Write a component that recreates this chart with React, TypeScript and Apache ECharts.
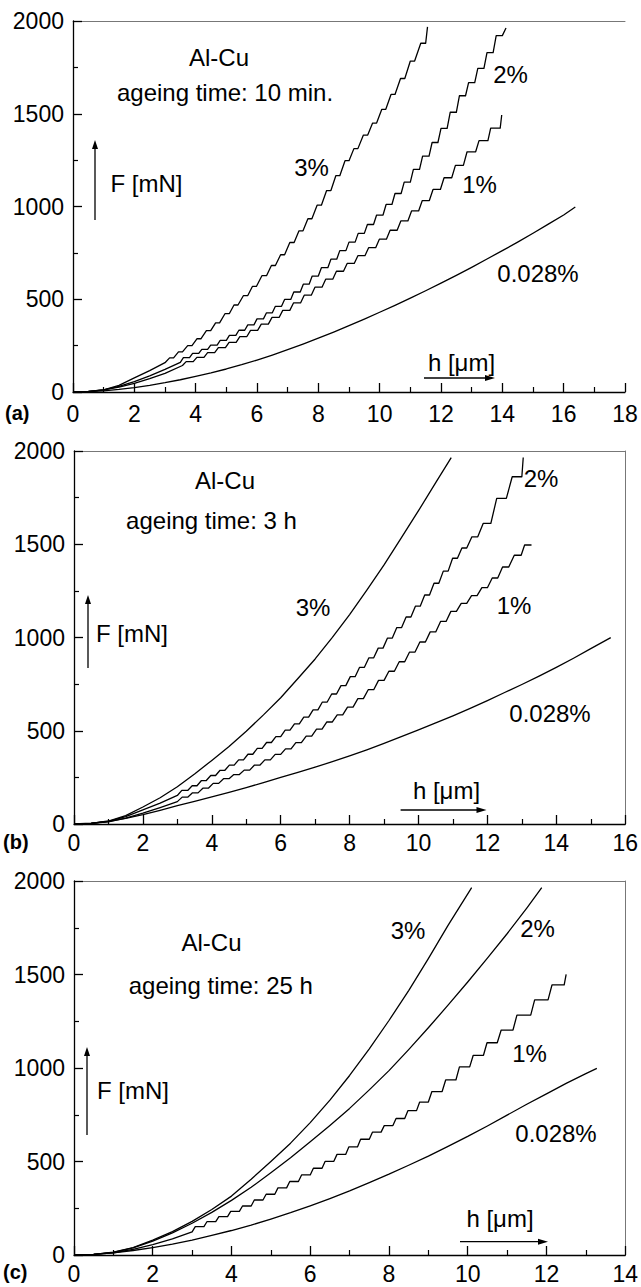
import { useEffect, useRef } from "react";
import * as echarts from "echarts";

// Staircase curves are given as a smooth lower part [h, F] followed by
// plateaus [hStart, hEnd, F] (displacement bursts at constant load).

// ---------- Panel (a): ageing time 10 min ----------
const a3Smooth = [[0, 0], [0.5, 2], [1, 12], [1.5, 36], [2, 76], [2.5, 115], [3, 158]];
const a3Flats = [[3.15, 3.28, 184], [3.44, 3.57, 216], [3.74, 3.88, 250], [4.04, 4.17, 287], [4.35, 4.49, 331], [4.65, 4.78, 373], [4.96, 5.1, 423], [5.25, 5.38, 469], [5.56, 5.7, 520], [5.85, 5.98, 569], [6.16, 6.31, 627], [6.47, 6.6, 682], [6.77, 6.9, 740], [7.07, 7.21, 806], [7.37, 7.5, 869], [7.66, 7.79, 934], [7.96, 8.1, 1007], [8.27, 8.41, 1086], [8.57, 8.7, 1166], [8.87, 9.0, 1247], [9.16, 9.29, 1312], [9.47, 9.61, 1385], [9.77, 9.9, 1450], [10.07, 10.2, 1524], [10.37, 10.5, 1604], [10.68, 10.82, 1690], [11.0, 11.14, 1784], [11.34, 11.5, 1880], [11.56, 11.56, 1968]];
const a2Smooth = [[0, 0], [0.5, 3], [1, 12], [1.5, 30], [2, 56], [2.5, 87], [3, 122], [3.5, 160]];
const a2Flats = [[3.6, 3.8, 185], [3.9, 4.1, 208], [4.2, 4.39, 230], [4.49, 4.7, 253], [4.8, 5.0, 278], [5.1, 5.31, 305], [5.41, 5.6, 333], [5.7, 5.9, 362], [6.0, 6.21, 394], [6.31, 6.5, 427], [6.6, 6.8, 462], [6.9, 7.1, 499], [7.2, 7.41, 539], [7.51, 7.7, 581], [7.8, 8.0, 625], [8.1, 8.31, 670], [8.41, 8.6, 716], [8.7, 8.9, 762], [9.0, 9.2, 808], [9.3, 9.5, 855], [9.6, 9.8, 903], [9.9, 10.11, 954], [10.21, 10.4, 1011], [10.5, 10.7, 1070], [10.8, 11.0, 1131], [11.1, 11.3, 1200], [11.4, 11.61, 1272], [11.71, 11.9, 1345], [12.0, 12.2, 1421], [12.3, 12.5, 1508], [12.6, 12.8, 1597], [12.9, 13.1, 1668], [13.2, 13.4, 1745], [13.5, 13.7, 1830], [13.8, 14.0, 1921], [14.12, 14.12, 1962]];
const a1Smooth = [[0, 0], [0.5, 3], [1, 11], [1.5, 26], [2, 47], [2.5, 72], [3, 100], [3.57, 143]];
const a1Flats = [[3.69, 3.92, 164], [4.04, 4.27, 187], [4.39, 4.62, 212], [4.74, 4.97, 239], [5.09, 5.32, 268], [5.44, 5.67, 299], [5.79, 6.02, 332], [6.14, 6.37, 366], [6.49, 6.72, 402], [6.84, 7.07, 440], [7.19, 7.42, 480], [7.54, 7.77, 522], [7.89, 8.12, 565], [8.24, 8.47, 608], [8.59, 8.82, 651], [8.94, 9.17, 693], [9.29, 9.52, 735], [9.64, 9.87, 778], [9.99, 10.22, 824], [10.34, 10.57, 872], [10.69, 10.92, 922], [11.04, 11.27, 976], [11.39, 11.62, 1032], [11.74, 11.98, 1092], [12.1, 12.35, 1155], [12.47, 12.73, 1222], [12.85, 13.13, 1295], [13.24, 13.53, 1355], [13.62, 13.93, 1422], [13.98, 13.98, 1493]];
const a0 = [[0, 0], [0.5, 2], [1, 6], [1.5, 14], [2, 24], [2.5, 36], [3, 50], [3.5, 66], [4, 84], [4.5, 103], [5, 124], [5.5, 147], [6, 172], [6.5, 199], [7, 228], [7.5, 258], [8, 290], [8.5, 323], [9, 358], [9.5, 393], [10, 430], [10.5, 467], [11, 506], [11.5, 546], [12, 587], [12.5, 629], [13, 672], [13.5, 717], [14, 762], [14.5, 808], [15, 856], [15.5, 905], [16, 954], [16.38, 997]];

// ---------- Panel (b): ageing time 3 h ----------
const b3 = [[0, 0], [0.5, 3], [1, 16], [1.5, 45], [2, 91], [2.5, 141], [3, 200], [3.5, 268], [4, 341], [4.5, 415], [5, 497], [5.5, 585], [6, 677], [6.5, 780], [7, 885], [7.5, 1001], [8, 1123], [8.5, 1254], [9, 1389], [9.5, 1534], [10, 1680], [10.5, 1830], [10.95, 1964]];
const b2Smooth = [[0, 0], [0.5, 3], [1, 14], [1.5, 40], [2, 76], [2.5, 112], [3, 153]];
const b2Flats = [[3.13, 3.3, 180], [3.43, 3.57, 205], [3.7, 3.84, 233], [3.97, 4.11, 260], [4.24, 4.38, 288], [4.51, 4.65, 316], [4.78, 4.92, 344], [5.05, 5.19, 374], [5.32, 5.46, 405], [5.59, 5.73, 437], [5.86, 6.0, 468], [6.13, 6.27, 503], [6.4, 6.54, 537], [6.67, 6.81, 573], [6.94, 7.08, 612], [7.21, 7.35, 654], [7.48, 7.62, 697], [7.75, 7.89, 742], [8.02, 8.16, 790], [8.29, 8.43, 840], [8.56, 8.7, 891], [8.83, 8.97, 943], [9.1, 9.24, 997], [9.37, 9.51, 1053], [9.64, 9.78, 1110], [9.91, 10.05, 1168], [10.18, 10.32, 1228], [10.45, 10.59, 1291], [10.72, 10.86, 1356], [10.99, 11.13, 1425], [11.26, 11.4, 1480], [11.55, 11.72, 1540], [11.88, 12.1, 1612], [12.27, 12.55, 1746], [12.72, 13.0, 1862], [13.04, 13.04, 1965]];
const b1Smooth = [[0, 0], [0.5, 3], [1, 12], [1.5, 32], [2, 58], [2.5, 88], [3, 120]];
const b1Flats = [[3.14, 3.3, 144], [3.44, 3.6, 167], [3.74, 3.9, 192], [4.04, 4.2, 218], [4.34, 4.5, 243], [4.64, 4.8, 265], [4.94, 5.1, 289], [5.24, 5.4, 316], [5.54, 5.7, 344], [5.84, 6.0, 373], [6.14, 6.3, 403], [6.44, 6.6, 436], [6.74, 6.9, 471], [7.04, 7.2, 509], [7.34, 7.5, 547], [7.64, 7.8, 585], [7.94, 8.1, 627], [8.24, 8.4, 672], [8.54, 8.7, 720], [8.84, 9.0, 770], [9.14, 9.3, 819], [9.44, 9.6, 870], [9.74, 9.9, 922], [10.04, 10.2, 976], [10.34, 10.5, 1030], [10.64, 10.8, 1086], [10.94, 11.1, 1140], [11.24, 11.4, 1183], [11.54, 11.7, 1225], [11.84, 12.0, 1267], [12.14, 12.3, 1319], [12.44, 12.62, 1378], [12.78, 12.98, 1441], [13.08, 13.28, 1496]];
const b0 = [[0, 0], [0.5, 4], [1, 14], [1.5, 30], [2, 50], [2.5, 73], [3, 98], [3.5, 121], [4, 145], [4.5, 170], [5, 195], [5.5, 222], [6, 250], [6.5, 277], [7, 305], [7.5, 334], [8, 365], [8.5, 398], [9, 432], [9.5, 468], [10, 505], [10.5, 542], [11, 580], [11.5, 620], [12, 662], [12.5, 705], [13, 748], [13.5, 793], [14, 840], [14.5, 889], [15, 940], [15.58, 999]];

// ---------- Panel (c): ageing time 25 h ----------
const c3 = [[0, 0], [0.5, 3], [1, 15], [1.5, 40], [2, 80], [2.5, 125], [3, 180], [3.5, 243], [4, 315], [4.5, 405], [5, 500], [5.5, 598], [6, 708], [6.5, 828], [7, 960], [7.5, 1102], [8, 1254], [8.5, 1414], [9, 1585], [9.5, 1763], [10.1, 1965]];
const c2 = [[0, 0], [0.5, 3], [1, 14], [1.5, 38], [2, 74], [2.5, 118], [3, 170], [3.5, 228], [4, 292], [4.5, 362], [5, 440], [5.5, 520], [6, 605], [6.5, 693], [7, 784], [7.5, 883], [8, 986], [8.5, 1098], [9, 1215], [9.5, 1336], [10, 1460], [10.5, 1588], [11, 1718], [11.5, 1855], [11.88, 1964]];
const c1Smooth = [[0, 0], [0.5, 3], [1, 12], [1.5, 30], [2, 56], [2.5, 86], [3, 124]];
const c1Flats = [[3.08, 3.3, 152], [3.38, 3.6, 179], [3.68, 3.9, 205], [3.98, 4.2, 233], [4.28, 4.5, 262], [4.58, 4.8, 294], [4.88, 5.1, 325], [5.18, 5.4, 359], [5.48, 5.7, 393], [5.78, 6.0, 428], [6.08, 6.3, 464], [6.38, 6.6, 501], [6.68, 6.9, 538], [6.98, 7.2, 578], [7.28, 7.5, 619], [7.58, 7.8, 657], [7.88, 8.1, 692], [8.18, 8.4, 730], [8.48, 8.7, 772], [8.78, 9.0, 818], [9.09, 9.35, 874], [9.44, 9.7, 936], [9.79, 10.05, 1006], [10.14, 10.4, 1068], [10.49, 10.75, 1135], [10.85, 11.15, 1203], [11.25, 11.6, 1283], [11.7, 12.04, 1364], [12.14, 12.45, 1444], [12.5, 12.5, 1501]];
const c0 = [[0, 0], [0.5, 3], [1, 11], [1.5, 24], [2, 40], [2.5, 58], [3, 80], [3.5, 105], [4, 131], [4.5, 160], [5, 192], [5.5, 226], [6, 263], [6.5, 302], [7, 343], [7.5, 387], [8, 432], [8.5, 480], [9, 529], [9.5, 581], [10, 634], [10.5, 690], [11, 748], [11.5, 806], [12, 862], [12.5, 918], [13, 970], [13.28, 998]];

const xMaxes = [18, 16, 14];
const yTicks = { min: 0, max: 2000, interval: 500 };
const panelLetters = ["(a)", "(b)", "(c)"];
const ageingTexts = ["ageing time: 10 min.", "ageing time: 3 h", "ageing time: 25 h"];
const alloy = "Al-Cu";
const curveNames = ["3%", "2%", "1%", "0.028%"];

const FONT = 'Arial, "Liberation Sans", Helvetica, sans-serif';
const FS = 23;
const FA = 24;

const grids = [
  { left: 73, top: 21, width: 552, height: 371 },
  { left: 74, top: 451, width: 554, height: 373 },
  { left: 74, top: 881, width: 554, height: 374 },
];

const layout = [
  {
    alloy: [219, 57], ageing: [225, 92], F: [146.5, 183], h: [461.5, 362],
    curves: [[311.5, 167], [510.5, 74], [479.5, 184], [538, 273]],
    vArrow: [95, 220, 140], hArrow: [378, 424, 495], letter: [5, 413], labelMargin: 10, rightLine: false,
  },
  {
    alloy: [225, 480], ageing: [211.5, 520], F: [132, 633], h: [446.5, 790],
    curves: [[313, 607], [541, 478], [514, 605], [550, 713]],
    vArrow: [88, 668, 595], hArrow: [810, 400.6, 486.5], letter: [3, 842], labelMargin: 7, rightLine: true,
  },
  {
    alloy: [211.5, 942], ageing: [220.8, 985], F: [133, 1090], h: [500, 1218],
    curves: [[408, 930], [537.5, 928], [529.5, 1053], [556, 1133]],
    vArrow: [87, 1135, 1047], hArrow: [1241.7, 460, 548], letter: [3, 1272], labelMargin: 7, rightLine: true,
  },
];

function stairs(smooth: number[][], flats: number[][]) {
  const pts = smooth.slice();
  flats.forEach(([hs, he, f]) => {
    pts.push([hs, f]);
    if (he !== hs) pts.push([he, f]);
  });
  return pts;
}

function txt(text: string, x: number, y: number, extra: any = {}) {
  return {
    type: "text", x, y, silent: true,
    style: { text, fill: "#000", fontSize: FA, fontFamily: FONT, align: "center", verticalAlign: "middle", ...extra },
  };
}

function vArrow(x: number, y1: number, y2: number) {
  return [
    { type: "line", silent: true, shape: { x1: x, y1, x2: x, y2: y2 + 6 }, style: { stroke: "#000", lineWidth: 1.3 } },
    { type: "polygon", silent: true, shape: { points: [[x, y2], [x - 3, y2 + 9], [x + 3, y2 + 9]] }, style: { fill: "#000" } },
  ];
}
function hArrow(y: number, x1: number, x2: number) {
  return [
    { type: "line", silent: true, shape: { x1, y1: y, x2: x2 - 6, y2: y }, style: { stroke: "#000", lineWidth: 1.3 } },
    { type: "polygon", silent: true, shape: { points: [[x2, y], [x2 - 10, y - 3], [x2 - 10, y + 3]] }, style: { fill: "#000" } },
  ];
}

export default function App() {
  const ref = useRef<HTMLDivElement>(null);
  useEffect(() => {
    if (!ref.current) return;
    const chart = echarts.init(ref.current, null, { renderer: "svg" });

    const xAxis: any[] = [];
    const yAxis: any[] = [];
    const series: any[] = [];
    const graphic: any[] = [];

    const panelData: any[] = [
      [stairs(a3Smooth, a3Flats), stairs(a2Smooth, a2Flats), stairs(a1Smooth, a1Flats), a0],
      [b3, stairs(b2Smooth, b2Flats), stairs(b1Smooth, b1Flats), b0],
      [c3, c2, stairs(c1Smooth, c1Flats), c0],
    ];

    grids.forEach((g, i) => {
      const L = layout[i];
      const bx = xAxis.length;
      xAxis.push({
        type: "value", gridIndex: i, min: 0, max: xMaxes[i], interval: 2, position: "bottom",
        axisLine: { show: true, onZero: false, lineStyle: { color: "#000", width: 1.3 } },
        axisTick: { show: true, inside: true, length: 9, lineStyle: { color: "#000", width: 1.3 } },
        minorTick: { show: true, splitNumber: 2, length: 5, lineStyle: { color: "#000", width: 1.2 } },
        axisLabel: { show: true, color: "#000", fontSize: FS, fontFamily: FONT, margin: L.labelMargin },
        splitLine: { show: false }, minorSplitLine: { show: false },
      });
      xAxis.push({
        type: "value", gridIndex: i, min: 0, max: xMaxes[i], position: "top",
        axisLine: { show: true, onZero: false, lineStyle: { color: "#777", width: 1 } },
        axisTick: { show: false }, axisLabel: { show: false }, splitLine: { show: false },
      });
      const ly = yAxis.length;
      yAxis.push({
        type: "value", gridIndex: i, ...yTicks, position: "left",
        axisLine: { show: true, onZero: false, lineStyle: { color: "#000", width: 1.3 } },
        axisTick: { show: true, inside: true, length: 9, lineStyle: { color: "#000", width: 1.3 } },
        minorTick: { show: true, splitNumber: 2, length: 5, lineStyle: { color: "#000", width: 1.2 } },
        axisLabel: { show: true, color: "#000", fontSize: FS, fontFamily: FONT, margin: 9, formatter: (v: number) => String(v) },
        splitLine: { show: false }, minorSplitLine: { show: false },
      });
      if (L.rightLine) {
        yAxis.push({
          type: "value", gridIndex: i, ...yTicks, position: "right",
          axisLine: { show: true, onZero: false, lineStyle: { color: "#777", width: 1 } },
          axisTick: { show: false }, axisLabel: { show: false }, splitLine: { show: false },
        });
      }
      panelData[i].forEach((data: any) => {
        series.push({
          type: "line", xAxisIndex: bx, yAxisIndex: ly, data,
          showSymbol: false, symbol: "none", silent: true,
          lineStyle: { color: "#000", width: 1.3, join: "round" },
        });
      });

      graphic.push(txt(alloy, L.alloy[0], L.alloy[1]));
      graphic.push(txt(ageingTexts[i], L.ageing[0], L.ageing[1]));
      graphic.push(txt("F [mN]", L.F[0], L.F[1]));
      graphic.push(txt("h [μm]", L.h[0], L.h[1]));
      curveNames.forEach((n, k) => graphic.push(txt(n, L.curves[k][0], L.curves[k][1])));
      graphic.push(...vArrow(L.vArrow[0], L.vArrow[1], L.vArrow[2]));
      graphic.push(...hArrow(L.hArrow[0], L.hArrow[1], L.hArrow[2]));
      graphic.push(txt(panelLetters[i], L.letter[0], L.letter[1], { align: "left", fontWeight: "bold", fontSize: 20 }));
    });

    chart.setOption({
      animation: false,
      backgroundColor: "#fff",
      grid: grids,
      xAxis,
      yAxis,
      series,
      graphic,
    });
    return () => chart.dispose();
  }, []);

  return <div ref={ref} style={{ position: "absolute", left: 0, top: 0, width: 641, height: 1287 }} />;
}
